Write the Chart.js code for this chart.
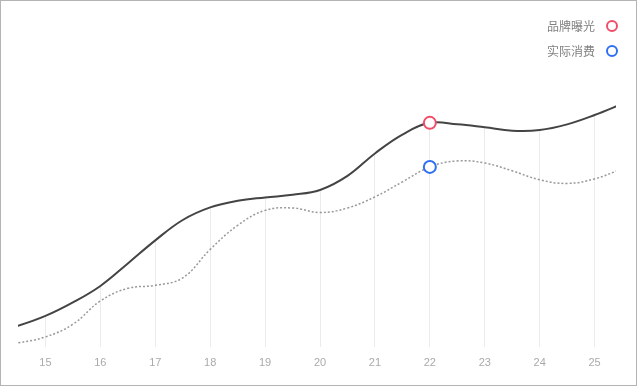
<!DOCTYPE html>
<html>
<head>
<meta charset="utf-8">
<script src="https://cdn.jsdelivr.net/npm/chart.js@4.4.1/dist/chart.umd.min.js"></script>
<style>
    html, body { margin: 0; padding: 0; background: #fff; }
    .chart-box {
        position: relative;
        width: 637px;
        height: 386px;
        border: 1px solid #b4b4b4;
        box-sizing: border-box;
    }
    .legend {
        position: absolute;
        right: 18px;
        top: 12px;
        font-family: "Noto Sans CJK SC", sans-serif;
        font-size: 12px;
        color: #808080;
    }
    .legend-item {
        display: flex;
        justify-content: flex-end;
        align-items: center;
        height: 25px;
    }
    .legend-dot {
        width: 8px;
        height: 8px;
        border-radius: 50%;
        border: 2px solid;
        margin-left: 11px;
    }
</style>
</head>
<body>
<div class="chart-box">
    <canvas id="trendChart"></canvas>
    <div class="legend" id="legend"></div>
</div>
<script>
// Data (half-day steps)
const days = [14, 14.5, 15, 15.5, 16, 16.5, 17, 17.5, 18, 18.5, 19, 19.5, 20,
              20.5, 21, 21.5, 22, 22.5, 23, 23.5, 24, 24.5, 25, 25.5, 26];
const tickDays = [15, 16, 17, 18, 19, 20, 21, 22, 23, 24, 25];
const exposure = [4.5, 7, 10.3, 14.8, 20.3, 27.8, 35.5, 42.3, 46.5, 48.7, 49.8, 50.7, 52.3,
                  57, 64.5, 70.8, 74.7, 74.2, 73.2, 72.1, 72.3, 74.2, 77.3, 81, 84.7];
const spending = [0, 1.3, 3.3, 7.5, 15.3, 19.5, 20.5, 23, 32.5, 40.5, 45.5, 46.3, 44.8,
                  46.3, 50, 55, 60, 62, 61.3, 58.7, 55.7, 54.5, 56, 59.3, 62.3];
const seriesNames = ['品牌曝光', '实际消费'];
const highlightDay = 22;

const markerColors = ['#f24d68', '#2f6ff2'];

// Build legend
const legend = document.getElementById('legend');
seriesNames.forEach((name, i) => {
    const item = document.createElement('div');
    item.className = 'legend-item';
    item.innerHTML = '<span>' + name + '</span><span class="legend-dot" style="border-color:' + markerColors[i] + '"></span>';
    legend.appendChild(item);
});

function toPoints(values) {
    return days.map((d, i) => ({ x: d, y: values[i] }));
}

const markerRadius = days.map(d => d === highlightDay ? 6 : 0);

const ctx = document.getElementById('trendChart').getContext('2d');
new Chart(ctx, {
    type: 'line',
    data: {
        datasets: [{
            label: seriesNames[0],
            data: toPoints(exposure),
            borderColor: '#444',
            borderWidth: 2,
            backgroundColor: '#fff',
            fill: 'end',
            tension: 0.4,
            pointRadius: markerRadius,
            pointBorderColor: markerColors[0],
            pointBackgroundColor: '#fff',
            pointBorderWidth: 2
        }, {
            label: seriesNames[1],
            data: toPoints(spending),
            borderColor: '#999',
            borderWidth: 1.5,
            borderDash: [2, 2],
            fill: false,
            tension: 0.4,
            pointRadius: markerRadius,
            pointBorderColor: markerColors[1],
            pointBackgroundColor: '#fff',
            pointBorderWidth: 2
        }]
    },
    options: {
        responsive: true,
        maintainAspectRatio: false,
        animation: false,
        events: [],
        layout: {
            padding: { left: 17, right: 20, top: 46, bottom: 5 }
        },
        plugins: {
            legend: { display: false },
            tooltip: { enabled: false }
        },
        scales: {
            x: {
                type: 'linear',
                min: 14.5,
                max: 25.39,
                afterBuildTicks: scale => {
                    scale.ticks = tickDays.map(v => ({ value: v }));
                },
                ticks: {
                    color: '#aaa',
                    padding: 10,
                    autoSkip: false,
                    maxRotation: 0,
                    font: { family: 'Liberation Sans, Arial, sans-serif', size: 11 }
                },
                grid: {
                    color: '#ebebeb',
                    drawTicks: false
                },
                border: { display: false }
            },
            y: {
                display: false,
                min: 0,
                max: 100
            }
        }
    }
});
</script>
</body>
</html>
